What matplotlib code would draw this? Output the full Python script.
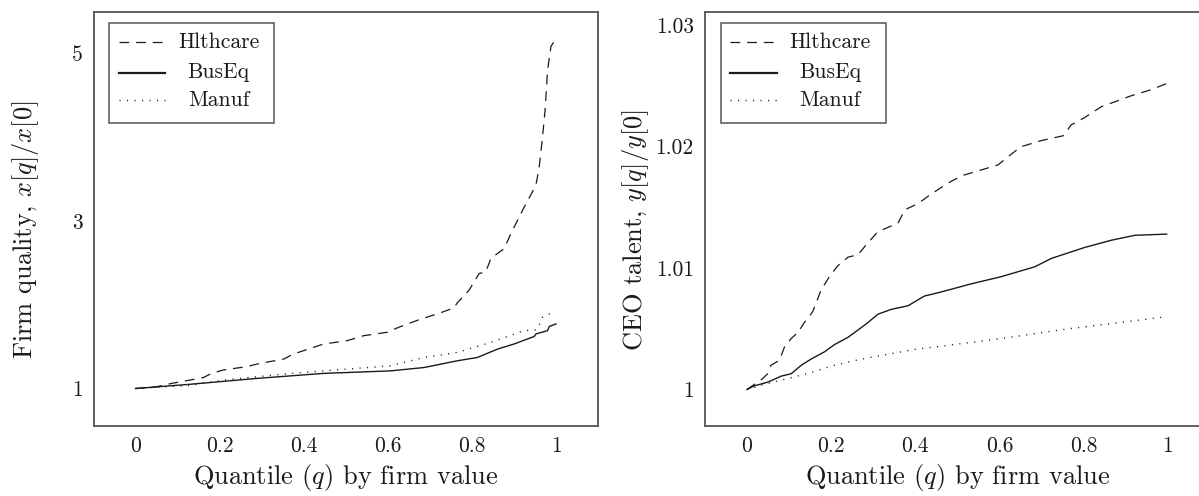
import matplotlib
matplotlib.use("Agg")
import matplotlib.pyplot as plt
from matplotlib.patches import Rectangle

plt.rcParams["font.family"] = "cmr10"
plt.rcParams["mathtext.fontset"] = "cm"
plt.rcParams["axes.unicode_minus"] = False
plt.rcParams["lines.scale_dashes"] = False

# ---- firm quality x[q]/x[0] by quantile ----
q_hlth_x = [0.00, 0.049, 0.085, 0.129, 0.161, 0.181, 0.208, 0.264, 0.296, 0.352,
            0.375, 0.447, 0.503, 0.543, 0.598, 0.626, 0.674, 0.718, 0.757, 0.765,
            0.793, 0.817, 0.833, 0.845, 0.877, 0.893, 0.924, 0.952, 0.960, 0.968,
            0.974, 0.980, 0.988, 0.996]
hlth_x = [1.00, 1.02, 1.06, 1.10, 1.13, 1.18, 1.22, 1.26, 1.30, 1.35,
          1.41, 1.53, 1.57, 1.63, 1.67, 1.73, 1.82, 1.89, 1.96, 2.02,
          2.17, 2.37, 2.39, 2.55, 2.67, 2.85, 3.16, 3.42, 3.64, 4.00,
          4.32, 4.80, 5.08, 5.14]

q_bus_x = [0.00, 0.129, 0.288, 0.447, 0.606, 0.686, 0.765, 0.813, 0.861, 0.900,
           0.948, 0.952, 0.980, 0.984, 1.00]
bus_x = [1.00, 1.05, 1.12, 1.18, 1.21, 1.25, 1.33, 1.37, 1.47, 1.53,
         1.62, 1.65, 1.69, 1.74, 1.77]

q_man_x = [0.00, 0.129, 0.208, 0.368, 0.606, 0.686, 0.765, 0.845, 0.924, 0.952,
           0.964, 0.968, 0.998]
man_x = [1.00, 1.036, 1.10, 1.18, 1.27, 1.37, 1.43, 1.55, 1.69, 1.70,
         1.79, 1.85, 1.92]

# ---- CEO talent y[q]/y[0] by quantile ----
q_hlth_y = [0.00, 0.037, 0.049, 0.057, 0.077, 0.089, 0.105, 0.121, 0.136, 0.156,
            0.164, 0.176, 0.196, 0.216, 0.240, 0.264, 0.283, 0.311, 0.359, 0.375,
            0.406, 0.438, 0.478, 0.510, 0.549, 0.597, 0.629, 0.652, 0.700, 0.752,
            0.771, 0.803, 0.843, 0.883, 0.914, 0.962, 0.998]
hlth_y = [1.0000, 1.0009, 1.0013, 1.0020, 1.0024, 1.0035, 1.0042, 1.0047, 1.0055, 1.0064,
          1.0071, 1.0082, 1.0093, 1.0102, 1.0109, 1.0111, 1.0119, 1.0130, 1.0137, 1.0148,
          1.0153, 1.0161, 1.0170, 1.0176, 1.0180, 1.0185, 1.0194, 1.0200, 1.0205, 1.0209,
          1.0218, 1.0224, 1.0233, 1.0238, 1.0242, 1.0247, 1.0252]

q_bus_y = [0.00, 0.017, 0.049, 0.081, 0.105, 0.129, 0.152, 0.184, 0.208, 0.240,
           0.264, 0.287, 0.311, 0.343, 0.383, 0.422, 0.458, 0.533, 0.605, 0.684,
           0.724, 0.803, 0.867, 0.922, 0.998]
bus_y = [1.0000, 1.0003, 1.0006, 1.0011, 1.0013, 1.0020, 1.0025, 1.0031, 1.0037, 1.0043,
         1.0049, 1.0055, 1.0062, 1.0066, 1.0069, 1.0077, 1.0080, 1.0087, 1.0093, 1.0101,
         1.0108, 1.0117, 1.0123, 1.0127, 1.0128]

q_man_y = [0.00, 0.049, 0.097, 0.152, 0.208, 0.271, 0.335, 0.398, 0.446, 0.605,
           0.764, 0.883, 0.998]
man_y = [1.0000, 1.0005, 1.0009, 1.0014, 1.0020, 1.0025, 1.0029, 1.0033, 1.0035, 1.0042,
         1.0050, 1.0055, 1.0060]

labels = ["Hlthcare", "BusEq", "Manuf"]
x_ticks = [0, 0.2, 0.4, 0.6, 0.8, 1]
x_ticklabels = ["0", "0.2", "0.4", "0.6", "0.8", "1"]
left_yticks = [1, 3, 5]
left_yticklabels = ["1", "3", "5"]
right_yticks = [1, 1.01, 1.02, 1.03]
right_yticklabels = ["1", "1.01", "1.02", "1.03"]

INK = "#1a1a1a"
FRAME = "#555555"
styles = [
    dict(linestyle=(0, (7.0, 5.0)), linewidth=0.9),
    dict(linestyle="-", linewidth=1.0),
    dict(linestyle=(0, (0.8, 4.6)), linewidth=1.0),
]


def boxed_legend(ax):
    # framed key with centred labels, placed in axes fraction
    ax.add_patch(Rectangle((0.031, 0.732), 0.327, 0.241, transform=ax.transAxes,
                           facecolor="white", edgecolor=FRAME, linewidth=1.1,
                           zorder=5))
    rows = [0.927, 0.853, 0.787]
    for row, label, style in zip(rows, labels, styles):
        st = dict(style)
        if st["linestyle"] == "-":
            st["linewidth"] = 1.6
        ax.plot([0.0505, 0.142], [row, row], transform=ax.transAxes,
                color=INK, zorder=6, clip_on=False, **st)
        ax.text(0.248, row, label, transform=ax.transAxes, ha="center",
                va="center", fontsize=15.5, color=INK, zorder=6)


def style_axes(ax, yticks, yticklabels, ylim, ylabel):
    ax.set_xlim(-0.1, 1.1)
    ax.set_ylim(*ylim)
    ax.set_xticks(x_ticks)
    ax.set_xticklabels(x_ticklabels)
    ax.set_yticks(yticks)
    ax.set_yticklabels(yticklabels)
    ax.tick_params(length=0, labelsize=15.5, pad=8, colors=INK)
    for spine in ax.spines.values():
        spine.set_color(FRAME)
        spine.set_linewidth(1.3)
    ax.set_xlabel(r"Quantile ($q$) by firm value", fontsize=19, color=INK)
    ax.set_ylabel(ylabel, fontsize=19, color=INK)
    ax.xaxis.set_label_coords(0.5, -0.088)
    ax.yaxis.set_label_coords(-0.104, 0.473)


fig = plt.figure(figsize=(11.99, 4.96), dpi=100)
ax1 = fig.add_axes([0.078, 0.142, 0.4208, 0.834])
ax2 = fig.add_axes([0.588, 0.142, 0.4208, 0.834])

left_series = [(q_hlth_x, hlth_x), (q_bus_x, bus_x), (q_man_x, man_x)]
for (q, v), style in zip(left_series, styles):
    ax1.plot(q, v, color=INK, **style)
style_axes(ax1, left_yticks, left_yticklabels, (0.558, 5.49),
           r"Firm quality, $x[q]/x[0]$")
boxed_legend(ax1)

right_series = [(q_hlth_y, hlth_y), (q_bus_y, bus_y), (q_man_y, man_y)]
for (q, v), style in zip(right_series, styles):
    ax2.plot(q, v, color=INK, **style)
style_axes(ax2, right_yticks, right_yticklabels, (0.99703, 1.0311),
           r"CEO talent, $y[q]/y[0]$")
ax2.yaxis.set_label_coords(-0.108, 0.473)
boxed_legend(ax2)

fig.savefig("out.png", dpi=100)
